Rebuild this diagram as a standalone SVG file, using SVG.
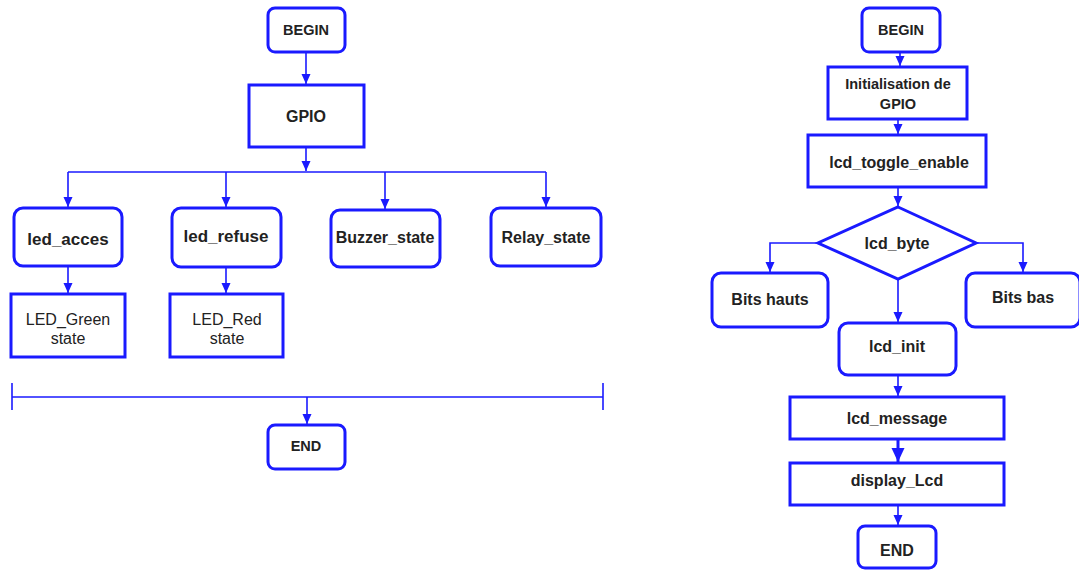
<svg xmlns="http://www.w3.org/2000/svg" width="1079" height="570" viewBox="0 0 1079 570">
  <style>
    .box { fill: #ffffff; stroke: #1a1aff; stroke-width: 3; }
    .wire { fill: none; stroke: #1a1aff; stroke-width: 1.6; }
    .thick { fill: none; stroke: #1a1aff; stroke-width: 3; }
    text { font-family: "Liberation Sans", Arial, sans-serif; fill: #222222; text-anchor: middle; dominant-baseline: central; }
    .s { font-weight: bold; font-size: 14.5px; }
    .b { font-weight: bold; font-size: 16px; }
    .bl { font-weight: bold; font-size: 17px; }
    .r { font-size: 16px; }
  </style>
  <defs>
    <marker id="arrow" markerUnits="userSpaceOnUse" markerWidth="12" markerHeight="12" viewBox="0 0 12 12" refX="10" refY="6" orient="auto">
      <path d="M0,1.5 L10,6 L0,10.5 Z" fill="#1a1aff"/>
    </marker>
    <marker id="arrowBig" markerUnits="userSpaceOnUse" markerWidth="16" markerHeight="16" viewBox="0 0 16 16" refX="14" refY="8" orient="auto">
      <path d="M0,1.5 L14,8 L0,14.5 Z" fill="#1a1aff"/>
    </marker>
  </defs>

  <!-- connectors -->
  <g id="connectors">
    <!-- left flow -->
    <path class="wire" d="M306,52 V84" marker-end="url(#arrow)"/>
    <path class="wire" d="M306,147 V171" marker-end="url(#arrow)"/>
    <path class="wire" d="M68,172 H546"/>
    <path class="wire" d="M68,172 V207" marker-end="url(#arrow)"/>
    <path class="wire" d="M226,172 V207" marker-end="url(#arrow)"/>
    <path class="wire" d="M385,172 V209" marker-end="url(#arrow)"/>
    <path class="wire" d="M546,172 V207" marker-end="url(#arrow)"/>
    <path class="wire" d="M68,266 V293" marker-end="url(#arrow)"/>
    <path class="wire" d="M226,267 V293" marker-end="url(#arrow)"/>
    <path class="wire" d="M12,397 H603"/>
    <path class="wire" d="M12,383 V410"/>
    <path class="wire" d="M603,383 V410"/>
    <path class="wire" d="M307,397 V424" marker-end="url(#arrow)"/>
    <!-- right flow -->
    <path class="wire" d="M900,52 V66" marker-end="url(#arrow)"/>
    <path class="wire" d="M898,119 V134" marker-end="url(#arrow)"/>
    <path class="wire" d="M898,187 V206" marker-end="url(#arrow)"/>
    <path class="wire" d="M818,243 H770 V272" marker-end="url(#arrow)"/>
    <path class="wire" d="M976,243 H1023 V272" marker-end="url(#arrow)"/>
    <path class="wire" d="M898,279 V322" marker-end="url(#arrow)"/>
    <path class="wire" d="M898,375 V396" marker-end="url(#arrow)"/>
    <path class="thick" d="M898,439 V462" marker-end="url(#arrowBig)"/>
    <path class="wire" d="M898,505 V525" marker-end="url(#arrow)"/>
  </g>

  <!-- left flowchart nodes -->
  <g id="l-begin">
    <rect class="box" x="268" y="8" width="77" height="44" rx="7"/>
    <text class="s" x="306" y="30">BEGIN</text>
  </g>
  <g id="l-gpio">
    <rect class="box" x="249" y="85" width="115" height="62"/>
    <text class="b" x="306" y="116">GPIO</text>
  </g>
  <g id="led-acces">
    <rect class="box" x="14" y="208" width="108" height="58" rx="9"/>
    <text class="bl" x="68" y="239">led_acces</text>
  </g>
  <g id="led-refuse">
    <rect class="box" x="172" y="208" width="109" height="59" rx="9"/>
    <text class="bl" x="226" y="236">led_refuse</text>
  </g>
  <g id="buzzer-state">
    <rect class="box" x="331" y="210" width="109" height="57" rx="9"/>
    <text class="b" x="385" y="237">Buzzer_state</text>
  </g>
  <g id="relay-state">
    <rect class="box" x="491" y="208" width="110" height="58" rx="9"/>
    <text class="b" x="546" y="237">Relay_state</text>
  </g>
  <g id="led-green">
    <rect class="box" x="11" y="294" width="114" height="63"/>
    <text class="r" x="68" y="319">LED_Green</text>
    <text class="r" x="68" y="338">state</text>
  </g>
  <g id="led-red">
    <rect class="box" x="170" y="294" width="113" height="63"/>
    <text class="r" x="227" y="319">LED_Red</text>
    <text class="r" x="227" y="338">state</text>
  </g>
  <g id="l-end">
    <rect class="box" x="268" y="425" width="77" height="44" rx="7"/>
    <text class="s" x="306" y="446">END</text>
  </g>

  <!-- right flowchart nodes -->
  <g id="r-begin">
    <rect class="box" x="862" y="8" width="78" height="44" rx="7"/>
    <text class="s" x="901" y="30">BEGIN</text>
  </g>
  <g id="init-gpio">
    <rect class="box" x="828" y="67" width="139" height="52"/>
    <text class="s" x="898" y="84">Initialisation de</text>
    <text class="s" x="898" y="104">GPIO</text>
  </g>
  <g id="lcd-toggle-enable">
    <rect class="box" x="808" y="135" width="178" height="52"/>
    <text class="b" x="899" y="162">lcd_toggle_enable</text>
  </g>
  <g id="lcd-byte">
    <polygon class="box" points="898,207 976,243 898,279 818,243"/>
    <text class="b" x="897" y="243">lcd_byte</text>
  </g>
  <g id="bits-hauts">
    <rect class="box" x="712" y="273" width="116" height="54" rx="9"/>
    <text class="b" x="770" y="299">Bits hauts</text>
  </g>
  <g id="bits-bas">
    <rect class="box" x="966" y="273" width="114" height="54" rx="9"/>
    <text class="b" x="1023" y="297">Bits bas</text>
  </g>
  <g id="lcd-init">
    <rect class="box" x="839" y="323" width="117" height="52" rx="9"/>
    <text class="b" x="897" y="346">lcd_init</text>
  </g>
  <g id="lcd-message">
    <rect class="box" x="790" y="397" width="214" height="42"/>
    <text class="b" x="897" y="418">lcd_message</text>
  </g>
  <g id="display-lcd">
    <rect class="box" x="790" y="463" width="214" height="42"/>
    <text class="b" x="897" y="480">display_Lcd</text>
  </g>
  <g id="r-end">
    <rect class="box" x="858" y="526" width="78" height="42" rx="7"/>
    <text class="b" x="897" y="550">END</text>
  </g>
</svg>
